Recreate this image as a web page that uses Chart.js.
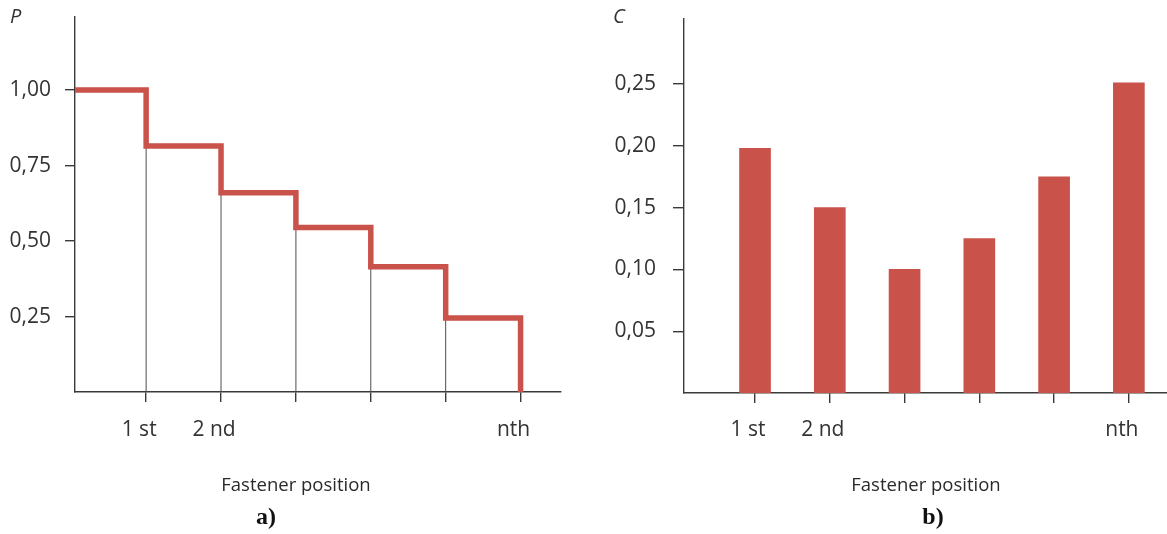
<!DOCTYPE html>
<html>
<head>
<meta charset="utf-8">
<script src="https://cdn.jsdelivr.net/npm/chart.js@4/dist/chart.umd.min.js"></script>
<style>
  html, body { margin: 0; padding: 0; background: #ffffff; }
  #wrap { position: relative; width: 1167px; height: 534px; overflow: hidden; font-family: 'Open Sans', sans-serif; color: #333333; }
  canvas { position: absolute; top: 0; }
  .lbl { position: absolute; white-space: nowrap; }
  .axisname { font-size: 20px; font-style: italic; line-height: 26px; font-weight: 400; }
  .xtitle { font-size: 18.5px; line-height: 20px; width: 300px; text-align: center; color: #2a2a2a; }
  .panel { font-family: 'Liberation Serif', 'Times New Roman', serif; font-weight: bold; font-size: 24px; line-height: 26px; width: 100px; text-align: center; color: #111; }
</style>
</head>
<body>
<div id="wrap">
  <canvas id="chartA" width="580" height="534" style="left:0px"></canvas>
  <canvas id="chartB" width="577" height="534" style="left:590px"></canvas>
  <div class="lbl axisname" style="left:10px; top:3px;">P</div>
  <div class="lbl axisname" style="left:613px; top:3px;">C</div>
  <div class="lbl xtitle" style="left:146px; top:474px;">Fastener position</div>
  <div class="lbl xtitle" style="left:776px; top:474px;">Fastener position</div>
  <div class="lbl panel" style="left:216px; top:503px;">a)</div>
  <div class="lbl panel" style="left:883px; top:503px;">b)</div>
</div>
<script>
// ---- data ----
const positions = [1, 2, 3, 4, 5, 6];
const tickLabels = ['1 st', '2 nd', '', '', '', 'nth'];
// P: level before the 1st fastener, then after each fastener (1st ... nth)
const pLevels = [1.00, 0.815, 0.66, 0.545, 0.415, 0.245, 0.00];
const pTicks = [0.25, 0.50, 0.75, 1.00];
// C: share per fastener position
const cValues = [0.198, 0.150, 0.100, 0.125, 0.175, 0.251];
const cTicks = [0.05, 0.10, 0.15, 0.20, 0.25];

const xMin = 0.05, xMaxA = 6.54, xMaxB = 6.51;
const pMax = 1.242, cMax = 0.3026;

// ---- styles ----
const RED = '#c9524a';
const AXIS = '#3a3a3a';
const THIN = '#4d4d4d';
const TXT = '#333333';
const tickFont = { family: "'Open Sans', sans-serif", size: 21, weight: '400' };
const fmt = v => v.toFixed(2).replace('.', ',');

Chart.defaults.animation = false;

function xScale(maxV, pad) {
  return {
    type: 'linear', min: xMin, max: maxV, offset: false,
    afterBuildTicks: s => { s.ticks = positions.map(v => ({ value: v })); },
    afterFit: s => { s.height = 534 - (pad.bottomY); s.paddingLeft = 0; s.paddingRight = 0; },
    ticks: {
      autoSkip: false, maxRotation: 0, padding: pad.tickPad, color: TXT, font: tickFont, labelOffset: -7,
      callback: (v) => { const i = positions.indexOf(v); return i >= 0 ? tickLabels[i] : ''; }
    },
    grid: { offset: false, drawOnChartArea: false, drawTicks: true, tickLength: 10, color: AXIS, lineWidth: 1.4 },
    border: { display: true, color: AXIS, width: 1.4 }
  };
}
function yScale(maxV, ticksArr, pad) {
  return {
    type: 'linear', min: 0, max: maxV,
    afterBuildTicks: s => { s.ticks = ticksArr.map(v => ({ value: v })); },
    afterFit: s => { s.width = pad.width; s.paddingTop = 0; s.paddingBottom = 0; },
    ticks: { padding: pad.tickPad, color: TXT, font: tickFont, callback: v => fmt(v) },
    grid: { drawOnChartArea: false, drawTicks: true, tickLength: pad.tl, color: AXIS, lineWidth: 1.4 },
    border: { display: true, color: AXIS, width: 1.4 }
  };
}

// ---- chart a) : step line ----
const stepData = pLevels.map((p, i) => ({ x: i === 0 ? xMin : positions[i - 1], y: p }));
const thinSets = positions.slice(0, 5).map((x, i) => ({
  type: 'line',
  data: [{ x: x, y: 0 }, { x: x, y: pLevels[i + 1] }],
  borderColor: THIN, borderWidth: 1, pointRadius: 0, order: 2
}));

new Chart(document.getElementById('chartA'), {
  type: 'line',
  data: {
    datasets: [{
      data: stepData, stepped: 'before', borderColor: RED, borderWidth: 5.5,
      pointRadius: 0, fill: false, order: 0, borderCapStyle: 'butt', borderJoinStyle: 'miter'
    }].concat(thinSets)
  },
  options: {
    responsive: false,
    layout: { padding: { top: 17, right: 19, bottom: 0, left: 0 } },
    plugins: { legend: { display: false }, tooltip: { enabled: false } },
    scales: {
      x: xScale(xMaxA, { bottomY: 392, tickPad: 15 }),
      y: yScale(pMax, pTicks, { width: 75, tickPad: 14, tl: 10 })
    }
  }
});

// ---- chart b) : bars ----
new Chart(document.getElementById('chartB'), {
  type: 'bar',
  data: {
    datasets: [{
      data: positions.map((x, i) => ({ x: x, y: cValues[i] })),
      backgroundColor: RED, borderWidth: 0, barThickness: 31
    }]
  },
  options: {
    responsive: false,
    layout: { padding: { top: 19, right: 0, bottom: 0, left: 0 } },
    plugins: { legend: { display: false }, tooltip: { enabled: false } },
    scales: {
      x: xScale(xMaxB, { bottomY: 393, tickPad: 14 }),
      y: yScale(cMax, cTicks, { width: 94, tickPad: 17, tl: 11 })
    }
  }
});
</script>
</body>
</html>
